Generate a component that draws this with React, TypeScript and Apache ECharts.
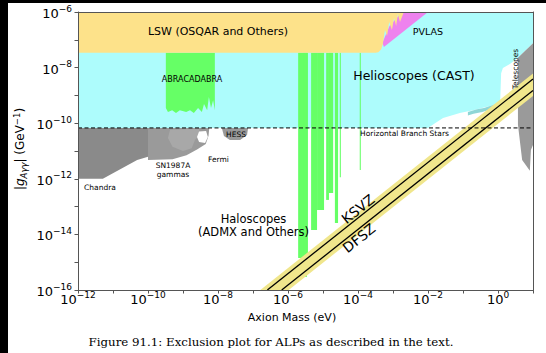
import React, { useEffect, useRef } from 'react';
import * as echarts from 'echarts';

// Axes are in decades: x = log10(m_a / eV), y = log10(|g| / GeV^-1)
const X_MIN = -12;
const X_MAX = 1;
const Y_MIN = -16;
const Y_MAX = -6;

const LSW_LIMIT = -7.47;
const HB_LIMIT = -10.17;

// Region outlines [log10 m, log10 g]
const castRegion = [[-12, -6], [1, -6], [1, -7.12], [0.57, -7.65], [0.34, -7.87], [0.14, -8.01], [0.09, -8.2], [0.06, -9.27], [-0.23, -9.38], [-0.71, -9.53], [-1.09, -9.63], [-1.57, -9.81], [-1.8, -10.0], [-2.0, -10.17], [-12, -10.17]];
const castGasRegion = [[-0.86, -9.6], [-0.6, -9.5], [-0.4, -9.45], [-0.1, -9.33], [0.06, -9.27], [0.06, -9.4], [-0.2, -9.5], [-0.45, -9.6], [-0.7, -9.66], [-0.86, -9.72]];
const pvlasRegion = [[-2.74, -6], [-2.0, -6], [-3.26, -7.26], [-3.3, -7.1], [-3.1, -6.5]];
const lswRegion = [[-12, -6], [-2.69, -6], [-2.8, -6.36], [-2.86, -6.07], [-2.91, -6.5], [-2.97, -6.22], [-3.03, -6.65], [-3.11, -6.36], [-3.17, -6.86], [-3.23, -6.65], [-3.29, -7.15], [-3.34, -7.35], [-3.42, -7.45], [-3.5, -7.47], [-12, -7.47]];
const abracadabraRegion = [[-9.49, -7.47], [-8.09, -7.47], [-8.09, -9.53], [-8.14, -9.17], [-8.2, -9.45], [-8.26, -9.06], [-8.31, -9.53], [-8.4, -9.31], [-8.46, -9.6], [-8.57, -9.45], [-8.69, -9.63], [-8.8, -9.53], [-8.91, -9.6], [-9.09, -9.53], [-9.2, -9.63], [-9.31, -9.53], [-9.43, -9.6], [-9.49, -9.45]];
// haloscope exclusions: [x from, x to, lower limit]
const haloStrips = [[-5.71, -5.43, -14.85], [-5.57, -5.46, -15.53], [-5.34, -5.17, -13.84], [-5.17, -4.97, -13.12], [-4.91, -4.83, -12.76], [-4.83, -4.71, -12.51], [-4.66, -4.57, -13.59], [-4.52, -4.49, -11.94], [-3.95, -3.92, -11.68]];
const chandraRegion = [[-12, -10.17], [-10.0, -10.17], [-10.0, -11.21], [-10.31, -11.32], [-11.29, -12], [-12, -12]];
const sn1987Region = [[-10.0, -10.17], [-8.25, -10.17], [-8.27, -10.45], [-8.35, -10.75], [-8.6, -10.95], [-8.9, -11.15], [-9.3, -11.3], [-10.0, -11.32]];
const fermiRegion = [[-9.37, -10.24], [-8.55, -10.2], [-8.5, -10.4], [-8.66, -10.6], [-8.75, -10.9], [-9.0, -11.0], [-9.3, -10.85], [-9.43, -10.53]];
const fermiHole = [[-8.54, -10.3], [-8.34, -10.28], [-8.29, -10.5], [-8.37, -10.71], [-8.54, -10.68], [-8.6, -10.5]];
const hessRegion = [[-7.89, -10.17], [-7.14, -10.17], [-7.17, -10.42], [-7.37, -10.6], [-7.66, -10.6], [-7.83, -10.46]];
const telescopeRegion = [[1, -7.12], [0.57, -7.65], [0.57, -10.06], [0.69, -11.32], [0.91, -11.71], [0.94, -10.96], [1, -10.78]];
const qcdBand = [[-6.79, -16], [1, -8.21], [1, -9.02], [-5.98, -16]];
const ksvzLine = [[-6.59, -16], [1, -8.41]];
const dfszLine = [[-6.18, -16], [1, -8.82]];
const hbLine = [[X_MIN, HB_LIMIT], [X_MAX, HB_LIMIT]];

const FONT = 'DejaVu Sans';

function polySeries(pts: number[][], color: string) {
  return {
    type: 'custom',
    coordinateSystem: 'cartesian2d',
    clip: true,
    silent: true,
    data: [pts[0]],
    renderItem: (_p: any, api: any) => ({
      type: 'polygon',
      shape: { points: pts.map((p) => api.coord(p)) },
      style: { fill: color, stroke: null },
    }),
  };
}

function lineSeries(pts: number[][], dashed: boolean, width: number) {
  return {
    type: 'line',
    data: pts,
    symbol: 'none',
    silent: true,
    clip: true,
    lineStyle: { color: '#000', width, type: dashed ? [4, 2.5] : 'solid' },
  };
}

const tickFmt = (v: number) => {
  if (Math.round(v) % 2 !== 0) return '';
  const e = Math.round(v);
  return `{b|10}{s|${e < 0 ? '\u2212' : ''}${Math.abs(e)}}`;
};
const tickRich = {
  b: { fontSize: 13, fontFamily: FONT, color: '#000', lineHeight: 16, verticalAlign: 'bottom' },
  s: { fontSize: 9, fontFamily: FONT, color: '#000', lineHeight: 2, verticalAlign: 'top' },
};

function txt(text: string, x: number, y: number, size: number, rotation = 0, family = FONT) {
  return {
    type: 'text',
    x,
    y,
    rotation,
    z: 100,
    style: { text, fontSize: size, fontFamily: family, fill: '#000', align: 'center', verticalAlign: 'middle' },
  };
}

export default function App() {
  const ref = useRef<HTMLDivElement>(null);
  useEffect(() => {
    if (!ref.current) return;
    const chart = echarts.init(ref.current, undefined, { renderer: 'svg' });
    const slope = Math.atan(27.8 / 35);
    chart.setOption({
      animation: false,
      backgroundColor: '#fff',
      grid: { left: 78, right: 13, top: 12, bottom: 63 },
      xAxis: [
        {
          type: 'value', min: X_MIN, max: X_MAX, interval: 1, z: 10,
          axisLine: { show: true, onZero: false, lineStyle: { color: '#555', width: 1 } },
          axisTick: { show: true, length: 3.5, lineStyle: { color: '#555' } },
          splitLine: { show: false },
          axisLabel: { formatter: tickFmt, rich: tickRich, margin: 0 },
        },
        {
          type: 'value', min: X_MIN, max: X_MAX, position: 'top', z: 10,
          axisLine: { show: true, onZero: false, lineStyle: { color: '#555', width: 1 } },
          axisTick: { show: false }, axisLabel: { show: false }, splitLine: { show: false },
        },
      ],
      yAxis: [
        {
          type: 'value', min: Y_MIN, max: Y_MAX, interval: 1, z: 10,
          axisLine: { show: true, onZero: false, lineStyle: { color: '#555', width: 1 } },
          axisTick: { show: true, length: 3.5, lineStyle: { color: '#555' } },
          splitLine: { show: false },
          axisLabel: { formatter: tickFmt, rich: tickRich, margin: 6 },
        },
        {
          type: 'value', min: Y_MIN, max: Y_MAX, position: 'right', z: 10,
          axisLine: { show: true, onZero: false, lineStyle: { color: '#555', width: 1 } },
          axisTick: { show: false }, axisLabel: { show: false }, splitLine: { show: false },
        },
      ],
      series: [
        polySeries(castRegion, '#adfcfc'),
        polySeries(castGasRegion, '#8fd6d6'),
        {
          type: 'custom',
          coordinateSystem: 'cartesian2d',
          clip: true,
          silent: true,
          data: haloStrips,
          encode: { x: [0, 1], y: 2 },
          renderItem: (_p: any, api: any) => {
            const a = api.coord([api.value(0), LSW_LIMIT]);
            const b = api.coord([api.value(1), api.value(2)]);
            return {
              type: 'rect',
              shape: { x: a[0], y: a[1], width: b[0] - a[0], height: b[1] - a[1] },
              style: { fill: '#66ff66', stroke: null },
            };
          },
        },
        polySeries(abracadabraRegion, '#66ff66'),
        polySeries(pvlasRegion, '#ee82ee'),
        polySeries(lswRegion, '#fde28a'),
        polySeries(chandraRegion, '#8a8a8a'),
        polySeries(sn1987Region, '#9a9a9a'),
        polySeries(fermiRegion, '#a8a8a8'),
        polySeries(fermiHole, '#ffffff'),
        polySeries(hessRegion, '#999999'),
        polySeries(telescopeRegion, '#9a9a9a'),
        polySeries(qcdBand, '#f0e68c'),
        lineSeries(ksvzLine, false, 1.3),
        lineSeries(dfszLine, false, 1.3),
        lineSeries(hbLine, true, 1),
      ],
      graphic: [
        { type: 'rect', shape: { x: 0, y: 0, width: 8, height: 353 }, style: { fill: '#000' }, z: 200 },
        { type: 'rect', shape: { x: 0, y: 0, width: 546, height: 3 }, style: { fill: '#000' }, z: 200 },
        txt('LSW (OSQAR and Others)', 218, 31, 11),
        txt('PVLAS', 428, 31, 9.5),
        txt('ABRACADABRA', 192, 79, 8),
        txt('Helioscopes (CAST)', 414, 75, 12.5),
        txt('Telescopes', 515, 69, 7.5, Math.PI / 2),
        txt('HESS', 236, 134.5, 7.5),
        txt('Horizontal Branch Stars', 404.5, 133, 7.5),
        txt('SN1987A', 173, 165, 7.5),
        txt('gammas', 173, 174.5, 7.5),
        txt('Fermi', 218.5, 159.5, 7.5),
        txt('Chandra', 100, 187, 7.5),
        txt('Haloscopes', 253.5, 219, 11.5),
        txt('(ADMX and Others)', 253.5, 232, 11.5),
        txt('KSVZ', 358, 209, 14, slope),
        txt('DFSZ', 359, 238, 14, slope),
        txt('Axion Mass (eV)', 292, 317, 11),
        {
          type: 'text', x: 20, y: 149, rotation: Math.PI / 2, z: 100,
          style: {
            text: '{n||}{i|g}{sub|A\u03b3\u03b3}{n|| (GeV}{sup|\u22121}{n|)}',
            fill: '#000', align: 'center', verticalAlign: 'middle',
            rich: {
              n: { fontSize: 12, fontFamily: FONT, fill: '#000', lineHeight: 16, verticalAlign: 'middle' },
              i: { fontSize: 12, fontFamily: FONT, fontStyle: 'italic', fill: '#000', lineHeight: 16, verticalAlign: 'middle' },
              sub: { fontSize: 8.5, fontFamily: FONT, fontStyle: 'italic', fill: '#000', lineHeight: 6, verticalAlign: 'bottom' },
              sup: { fontSize: 8.5, fontFamily: FONT, fill: '#000', lineHeight: 6, verticalAlign: 'top' },
            },
          },
        },
        txt('Figure 91.1: Exclusion plot for ALPs as described in the text.', 271, 342, 11.8, 0, 'DejaVu Serif'),
      ],
    });
    return () => chart.dispose();
  }, []);
  return <div ref={ref} style={{ position: 'fixed', left: 0, top: 0, width: 546, height: 353 }} />;
}
